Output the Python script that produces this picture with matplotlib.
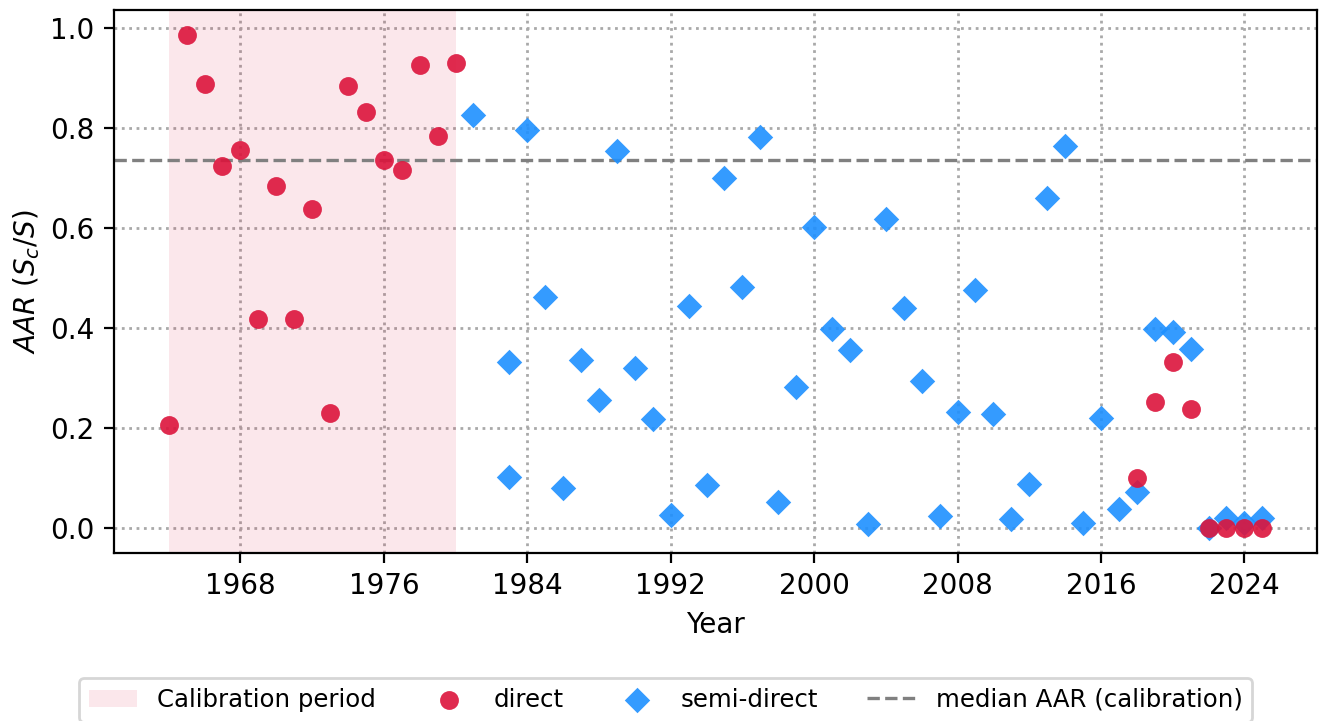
import numpy as np
import matplotlib
matplotlib.use("Agg")
from matplotlib import pyplot as plt
from matplotlib.ticker import MultipleLocator

# direct measurements (calibration years + recent years)
direct_years = [1964, 1965, 1966, 1967, 1968, 1969, 1970, 1971, 1972, 1973,
                1974, 1975, 1976, 1977, 1978, 1979, 1980,
                2018, 2019, 2020, 2021, 2022, 2023, 2024, 2025]
direct_aar = [0.205, 0.986, 0.888, 0.723, 0.756, 0.418, 0.683, 0.418, 0.637, 0.230,
              0.884, 0.832, 0.735, 0.715, 0.926, 0.784, 0.930,
              0.100, 0.251, 0.331, 0.238, 0.0, 0.0, 0.0, 0.0]

# semi-direct estimates
semi_years = [1981, 1983, 1983, 1984, 1985, 1986, 1987, 1988, 1989, 1990,
              1991, 1992, 1993, 1994, 1995, 1996, 1997, 1998, 1999, 2000,
              2001, 2002, 2003, 2004, 2005, 2006, 2007, 2008, 2009, 2010,
              2011, 2012, 2013, 2014, 2015, 2016, 2017, 2018, 2019, 2020,
              2021, 2022, 2023, 2024, 2025]
semi_aar = [0.826, 0.331, 0.102, 0.796, 0.461, 0.080, 0.335, 0.255, 0.754, 0.319,
            0.218, 0.026, 0.443, 0.086, 0.699, 0.481, 0.782, 0.052, 0.281, 0.601,
            0.397, 0.355, 0.008, 0.617, 0.439, 0.293, 0.024, 0.232, 0.475, 0.228,
            0.018, 0.088, 0.659, 0.764, 0.010, 0.220, 0.038, 0.072, 0.397, 0.391,
            0.357, 0.0, 0.020, 0.011, 0.020]

calib_start, calib_end = 1964, 1980

if __name__ == "__main__":
    direct_years = np.array(direct_years)
    direct_aar = np.array(direct_aar)
    in_calib = (direct_years >= calib_start) & (direct_years <= calib_end)
    median_aar = np.median(direct_aar[in_calib])

    fig = plt.figure(figsize=(6.605, 3.605), dpi=200)
    ax = fig.add_axes([0.0863, 0.2334, 0.9107, 0.7527])

    ax.axvspan(calib_start, calib_end, color="crimson", alpha=0.1, lw=0,
               label="Calibration period")
    ax.scatter(semi_years, semi_aar, marker="D", s=42, color="dodgerblue",
               alpha=0.9, linewidths=0, label="semi-direct", zorder=3)
    ax.scatter(direct_years, direct_aar, marker="o", s=46, color="crimson",
               alpha=0.9, linewidths=0, label="direct", zorder=4)
    ax.axhline(median_aar, color="gray", ls="--", lw=1.2,
               label="median AAR (calibration)")

    ax.xaxis.set_major_locator(MultipleLocator(8))
    ax.grid(True, ls=":", color="darkgray", lw=1)
    ax.set_axisbelow(True)
    ax.set_xlabel("Year")
    ax.set_ylabel(r"$AAR$ ($S_c/S$)", labelpad=3)

    handles, labels = ax.get_legend_handles_labels()
    order = [labels.index(l) for l in ["Calibration period", "direct",
                                        "semi-direct", "median AAR (calibration)"]]
    fig.legend([handles[i] for i in order], [labels[i] for i in order],
               loc="upper center", bbox_to_anchor=(0.5038, 0.0596), ncol=4,
               frameon=True, fontsize=8.8, borderaxespad=0)

    fig.savefig("out.png", dpi=200)
